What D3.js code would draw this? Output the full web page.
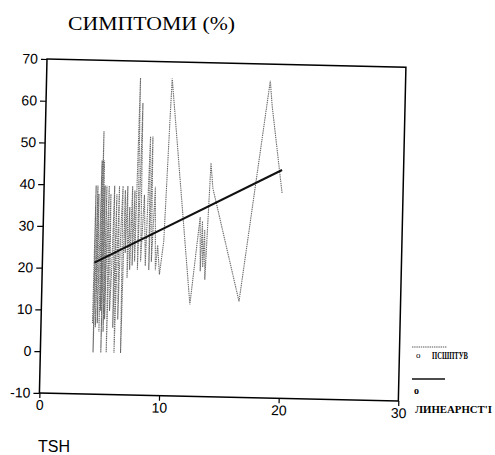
<!DOCTYPE html>
<html>
<head>
<meta charset="utf-8">
<script src="https://cdn.jsdelivr.net/npm/d3@7"></script>
<style>
  body { margin: 0; background: #fff; }
  svg { display: block; }
</style>
</head>
<body>
<svg id="chart" width="495" height="455"></svg>
<script>
// observed values (TSH vs symptoms %), in x order as plotted
const tsh = [4.3, 4.35, 4.4, 4.5, 4.55, 4.6, 4.7, 4.8, 4.85, 4.9, 4.95, 5.0, 5.05, 5.1, 5.2, 5.25, 5.3, 5.35, 5.45, 5.5,
  5.6, 5.7, 5.8, 5.9, 6.0, 6.1, 6.15, 6.3, 6.4, 6.5, 6.6, 6.7, 6.8, 6.9, 7.0, 7.1, 7.2, 7.3, 7.4, 7.5,
  7.6, 7.7, 7.85, 7.95, 8.1, 8.2, 8.4, 8.6, 8.8, 8.9, 9.0, 9.1, 9.3, 9.45, 9.6, 9.8, 10.1, 10.4, 10.5,
  12.4, 13.1, 13.2, 13.3, 13.4, 13.5, 13.6, 13.9, 14.1, 16.5, 18.7, 18.9, 19.9];
const symptoms = [7, 40, 0, 40, 6, 38, 7, 46, 5, 53, 10, 46, 0, 40, 5, 40, 8, 24, 40, 0,
  38, 10, 20, 40, 6, 38, 0, 40, 8, 30, 40, 0, 39, 24, 40, 18, 35, 20, 40, 21,
  39, 22, 66, 20, 60, 22, 38, 21, 52, 20, 52, 22, 40, 20, 26, 19, 27, 57, 66,
  12, 33, 20, 32, 21, 30, 18, 46, 40, 13, 66, 60, 39];

// linear fit end points
const fitX = [4.35, 19.85];
const fitY = [21.5, 44.7];

const xTicks = [0, 10, 20, 30];
const yTicks = [-10, 0, 10, 20, 30, 40, 50, 60, 70];

const title = "СИМПТОМИ (%)";
const xTitle = "TSH";
const legendLabels = ["ПСШПТУВ", "ЛИНЕАРНСТ'І"];

const svg = d3.select("#chart");
const W = 359, H = 334;

// scanned page is turned a little, so the plot is rotated too
const g = svg.append("g").attr("transform", "translate(47,59) rotate(1.3)");

const x = d3.scaleLinear().domain([0, 30]).range([0, W]);
const y = d3.scaleLinear().domain([-10, 70]).range([H, 0]);

const obs = tsh.map((d, i) => [d, symptoms[i]]);
const line = d3.line().x(d => x(d[0])).y(d => y(d[1]));

g.append("path")
  .datum(obs)
  .attr("d", line)
  .attr("fill", "none")
  .attr("stroke", "#6a6a6a")
  .attr("stroke-width", 1.1)
  .attr("stroke-dasharray", "1.4,0.8");

g.append("path")
  .datum(fitX.map((d, i) => [d, fitY[i]]))
  .attr("d", line)
  .attr("fill", "none")
  .attr("stroke", "#111")
  .attr("stroke-width", 2);

// frame
g.append("rect")
  .attr("width", W).attr("height", H)
  .attr("fill", "none").attr("stroke", "#000").attr("stroke-width", 1.5);

const fmt = d => String(d);
const ay = g.append("g")
  .call(d3.axisLeft(y).tickValues(yTicks).tickFormat(fmt).tickSize(6).tickPadding(3).tickSizeOuter(0));
const ax = g.append("g").attr("transform", `translate(0,${H})`)
  .call(d3.axisBottom(x).tickValues(xTicks).tickFormat(fmt).tickSize(5).tickPadding(2).tickSizeOuter(0));

[ax, ay].forEach(a => {
  a.select(".domain").remove();
  a.selectAll("line").attr("stroke", "#000").attr("stroke-width", 1.2);
  a.selectAll("text").attr("fill", "#000")
    .style("font-family", "'Liberation Sans', Arial, sans-serif").style("font-size", "14px");
});

// title and axis label
svg.append("text").attr("x", 68).attr("y", 30)
  .attr("textLength", 167).attr("lengthAdjust", "spacingAndGlyphs")
  .style("font-family", "'Liberation Serif', 'Times New Roman', serif").style("font-size", "19px")
  .text(title);

svg.append("text").attr("x", 38).attr("y", 452)
  .style("font-family", "'Liberation Sans', Arial, sans-serif").style("font-size", "16px")
  .text(xTitle);

// legend
const leg = svg.append("g");
leg.append("line").attr("x1", 412).attr("x2", 447).attr("y1", 347).attr("y2", 347)
  .attr("stroke", "#555").attr("stroke-width", 1).attr("stroke-dasharray", "1.4,0.8");
leg.append("text").attr("x", 416).attr("y", 358)
  .style("font-family", "'Liberation Serif', serif").style("font-size", "9px").text("o");
leg.append("text").attr("x", 432).attr("y", 359)
  .attr("textLength", 36).attr("lengthAdjust", "spacingAndGlyphs")
  .style("font-family", "'Liberation Serif', serif").style("font-size", "10px").style("font-weight", "bold")
  .text(legendLabels[0]);
leg.append("line").attr("x1", 412).attr("x2", 445).attr("y1", 379).attr("y2", 379)
  .attr("stroke", "#111").attr("stroke-width", 1.5);
leg.append("text").attr("x", 414).attr("y", 394)
  .style("font-family", "'Liberation Serif', serif").style("font-size", "10px").style("font-weight", "bold").text("o");
leg.append("text").attr("x", 415).attr("y", 413)
  .attr("textLength", 77).attr("lengthAdjust", "spacingAndGlyphs")
  .style("font-family", "'Liberation Serif', serif").style("font-size", "10px").style("font-weight", "bold")
  .text(legendLabels[1]);
</script>
</body>
</html>
